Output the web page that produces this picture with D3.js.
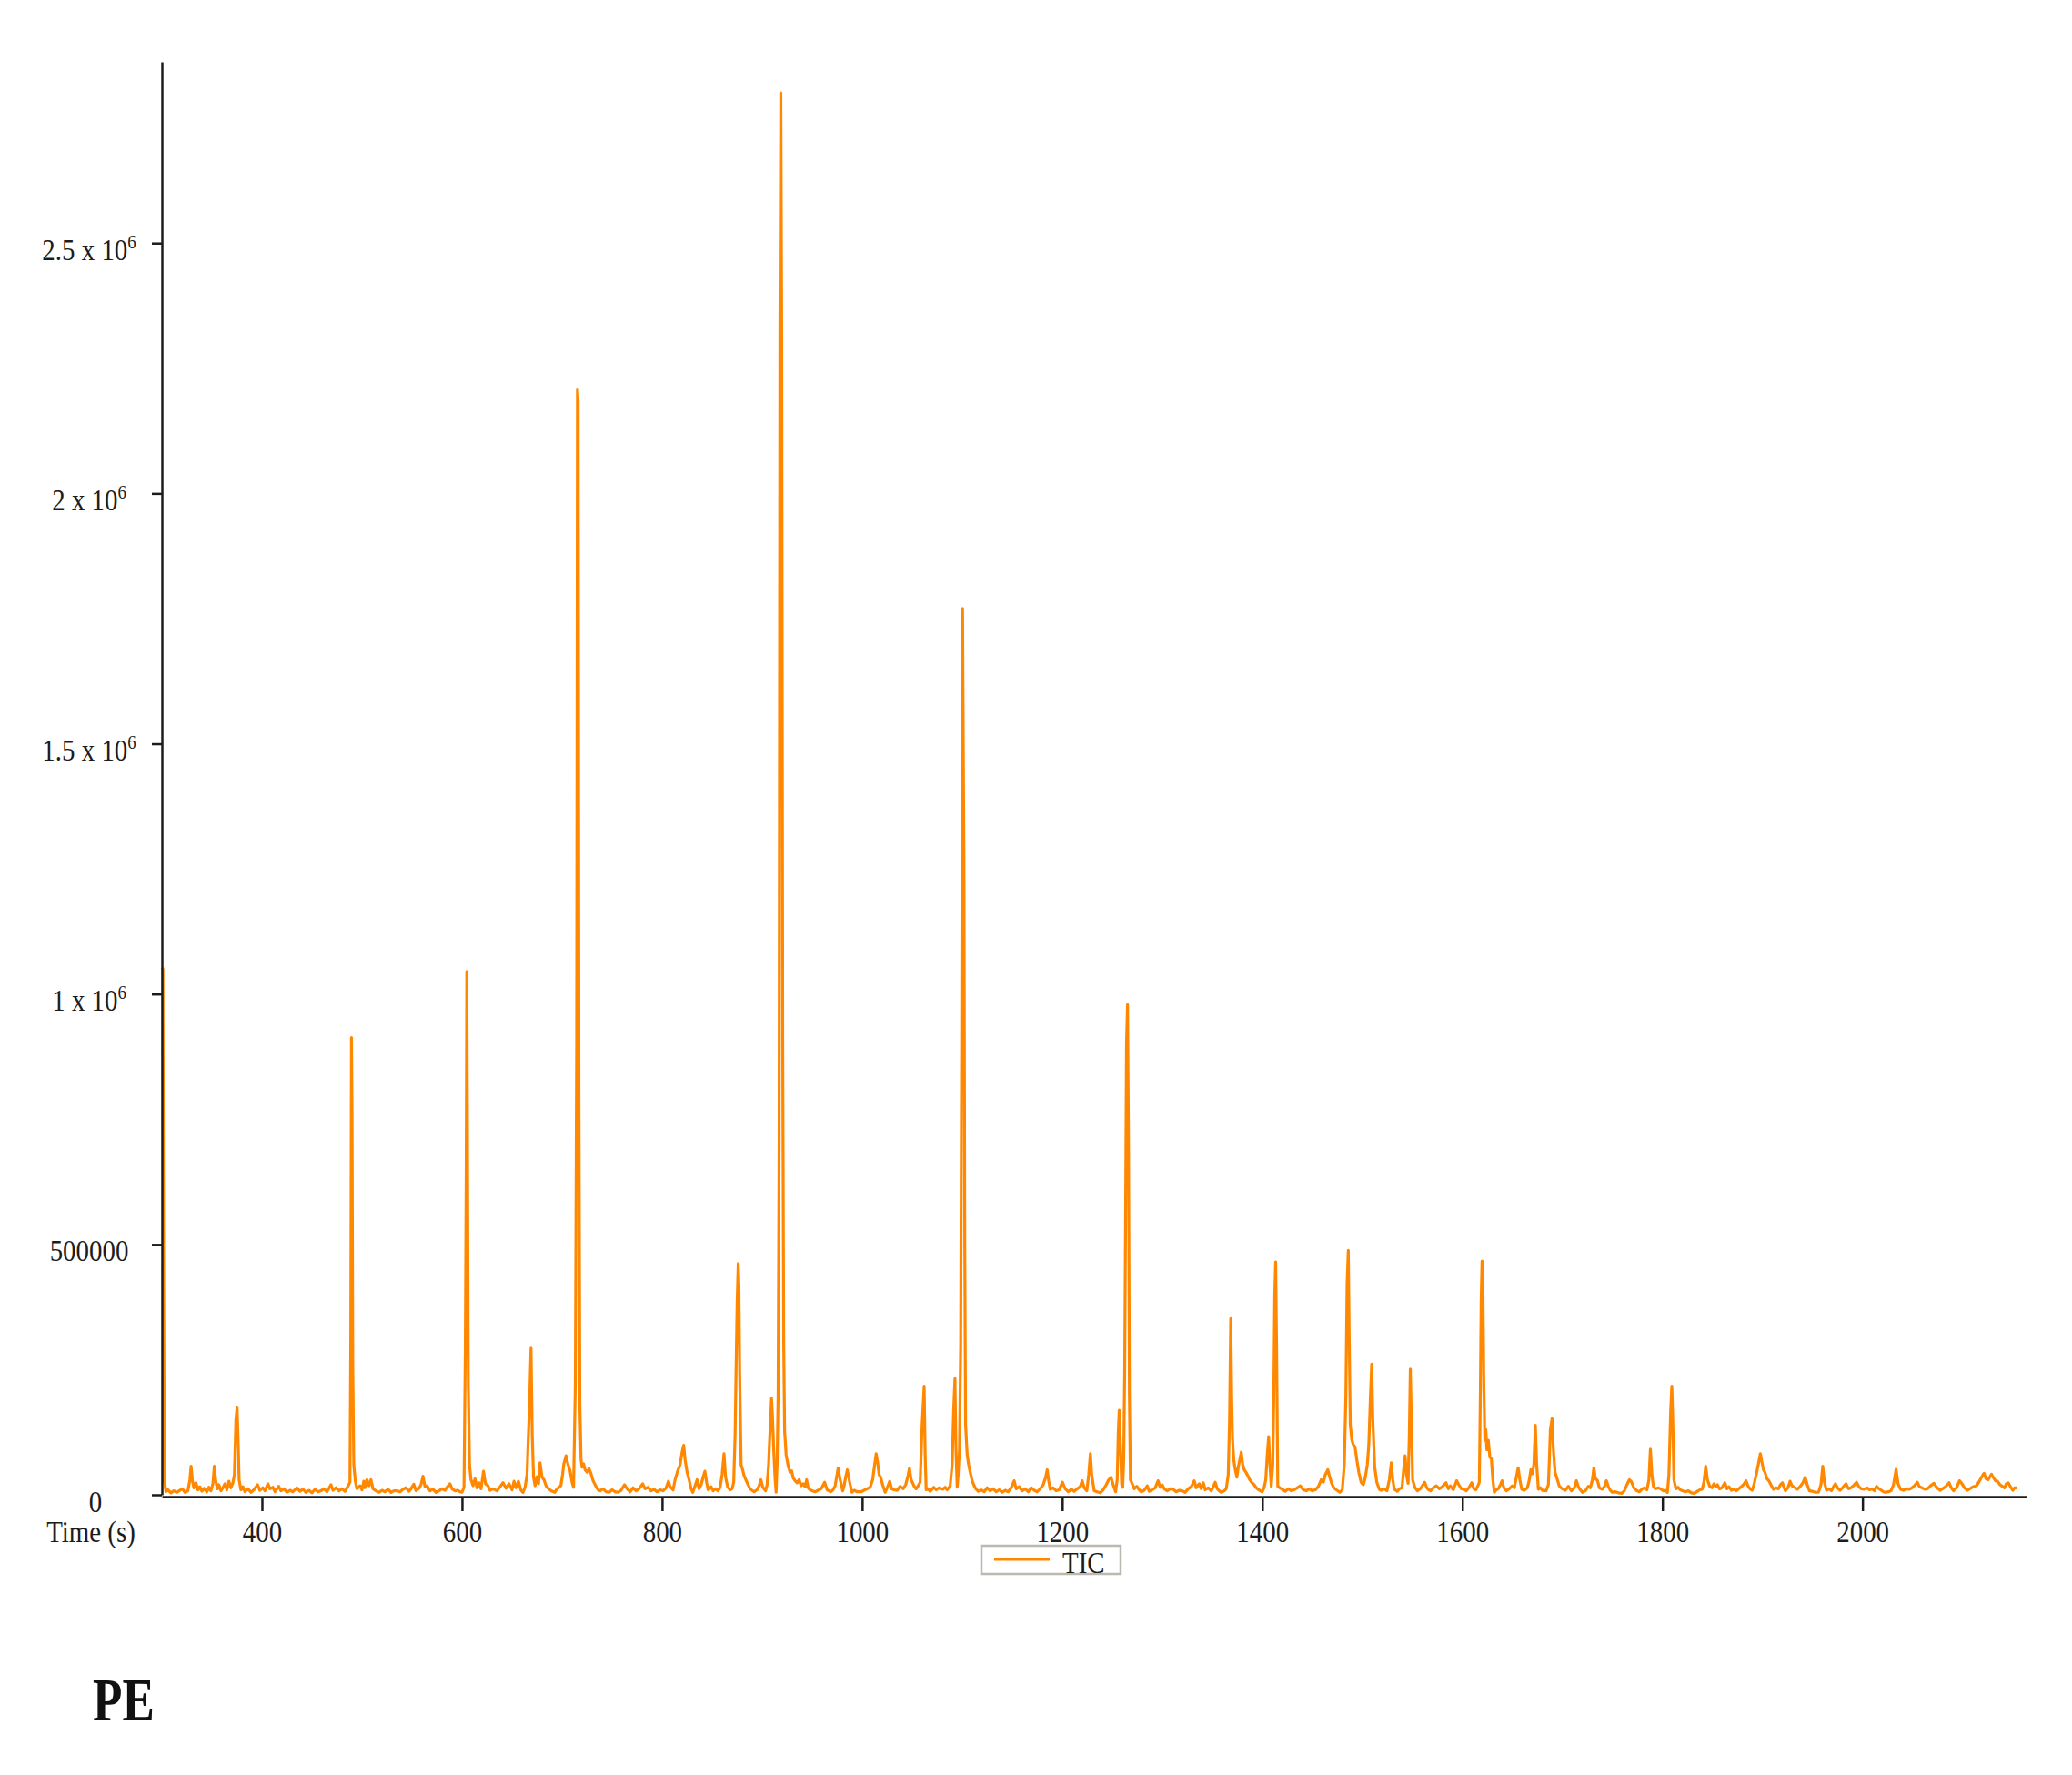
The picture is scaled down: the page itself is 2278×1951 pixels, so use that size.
<!DOCTYPE html>
<html>
<head>
<meta charset="utf-8">
<script src="https://cdn.jsdelivr.net/npm/d3@7"></script>
<style>
  body { margin: 0; background: #fff; }
  svg { display: block; }
  .squeeze { transform-box: fill-box; transform-origin: center; transform: scaleX(0.85); }
</style>
</head>
<body>
<svg id="chart" width="2278" height="1951"></svg>
<script>
// Axis ticks
const xTicks = [400, 600, 800, 1000, 1200, 1400, 1600, 1800, 2000];
const yTicks = [0, 500000, 1000000, 1500000, 2000000, 2500000];
const yTickLabels = [["0", ""], ["500000", ""], ["1 x 10", "6"], ["1.5 x 10", "6"], ["2 x 10", "6"], ["2.5 x 10", "6"]];
const seriesName = "TIC";
const panelLabel = "PE";

// TIC trace: [time (s), intensity in thousands of counts]
const ticPoints = [
  [300,1053],[301,1050],[301.8,420],[302.5,30],[304,6],[306,10],[309,4],[312,8],[315,5],[318,9],[320.5,12],[323,5],[326,8],[328,30],[329.2,57],[330.5,28],[332,14],[334,24],[336,10],[338,16],[340,7],[342,13],[345,6],[347,15],[349,8],[351,22],[352.4,57],[353.8,28],[355.5,12],[357,20],[359,8],[361,14],[363,22],[365,10],[367,27],[369,14],[371,24],[372.5,40],[374,150],[375.2,175],[376.2,110],[377.2,30],[379,10],[381,16],[383,6],[386,12],[389,5],[392,10],[395.6,20],[398,9],
  [401,14],[403,8],[406,22],[408,12],[411,15],[413,6],[416.7,17],[419,8],[422,12],[425,5],[428,9],[431,6],[435,14],[438,7],[441,11],[444,5],[447,9],[450,4],[453,11],[456,6],[459,8],[462,12],[465,6],[469,20],[471,9],[474,14],[477,8],[480,12],[483,7],[486,17],[488,25],[488.8,300],[489.5,913],[490.1,755],[490.8,260],[491.8,60],[493.5,25],[495,12],[498,18],
  [500,10],[501.8,27],[503,14],[505,30],[507,18],[509,30],[511,12],[514,8],[517,5],[520,9],[523,6],[526,11],[529,5],[532,8],[535,8],[538,6],[541,11],[544,14],[547,7],[549,12],[551.8,21],[554,8],[557,13],[559,20],[561,37],[563,16],[565,18],[568,8],[571,11],[574,5],[577,8],[580,12],[583,9],[585,15],[588,22],[590,12],[593,8],[595.7,9],[598,6],
  [600,5],[602,15],[603.3,290],[604.2,650],[604.8,1045],[605.5,700],[606.3,220],[607.5,60],[609,30],[611,18],[613,32],[615,14],[617,24],[619,12],[621.5,47],[623.5,22],[626,18],[628,9],[631,12],[635,8],[638,16],[641,24],[644,13],[647,22],[650,10],[652,27],[654,14],[656.4,27],[659,9],[661,5],[663,15],[665,40],[666,100],[667.5,180],[669,293],[670.2,120],[671.5,35],[673,18],[675,36],[676.5,22],[678,64],[680,35],[682,30],[684,18],[686.6,12],[689,8],[692.7,5],[695,12],[698.8,18],
  [700.5,40],[701.8,62],[704,78],[706,60],[708,48],[710,25],[711.5,15],[713.3,224],[714.6,900],[715.4,2207],[716.1,2185],[716.9,800],[717.8,180],[719,70],[720,55],[721.5,62],[723,50],[725,45],[727,52],[729,42],[731,28],[733.6,18],[736,10],[738,8],[741,12],[744,6],[747,5],[750,10],[753,6],[756,5],[759,9],[762.4,20],[765,12],[768,6],[771,14],[774,8],[777,12],[780.6,22],[783,12],[786,15],[789,8],[792,11],[795,6],[798,10],
  [801,8],[804,14],[806.4,27],[808,16],[811,10],[813,30],[815.5,47],[818,60],[820,85],[821.6,99],[823,70],[825,45],[827,30],[829,12],[830.7,5],[833,18],[835,30],[837,12],[839,20],[841,35],[842.8,47],[844.5,25],[846,10],[849,16],[851,8],[853,12],[856,8],[858,15],[860,40],[861.9,82],[863.5,35],[865.5,16],[868,10],[870,12],[871.6,25],[873,120],[874,254],[875,380],[876.1,462],[876.8,420],[877.6,240],[879,60],[880.5,50],[882,38],[883.7,30],[886,20],[888,12],[889.8,9],[892,6],[895,10],[897,18],[898.8,30],
  [900.5,16],[903.4,8],[905,20],[906.5,60],[907.3,100],[908.5,150],[909.4,193],[910.3,160],[911.6,90],[913,30],[914,5],[915,60],[916,200],[917,700],[917.8,2320],[918.7,2800],[919.6,2320],[920.6,900],[921.6,300],[922.5,127],[924,80],[926,58],[928,45],[929.5,48],[931,34],[933,28],[935,24],[937,30],[939,18],[941,22],[943,16],[944.5,30],[946,14],[948,10],[950,8],[953,6],[956,9],[959,12],[962.5,25],[965,10],[968.5,6],[971,10],[973,18],[976,53],[978,30],[980.6,8],[982,18],[983.5,35],[985.2,50],[987,30],[989.7,5],[992,9],[995,6],[999,6],
  [1002,9],[1005,12],[1008,15],[1010.5,30],[1012.5,60],[1014,82],[1015.5,65],[1017,40],[1018.5,35],[1020.5,20],[1023,5],[1025,14],[1027.6,27],[1029.5,12],[1032,10],[1035,9],[1038,17],[1041,12],[1043.5,20],[1045.5,35],[1047.3,53],[1049,30],[1052,17],[1054,12],[1056,18],[1058,25],[1060,140],[1062,217],[1063,80],[1064,10],[1066,12],[1068,7],[1071.6,15],[1074,10],[1077,14],[1080.6,11],[1083,15],[1085,10],[1088,18],[1089,40],[1090,60],[1091.5,170],[1092.8,232],[1093.8,90],[1095,15],[1096,40],[1097.3,90],[1098.5,300],[1099.5,900],
  [1100.4,1770],[1101.1,1500],[1101.8,1257],[1102.6,500],[1103.4,140],[1105,80],[1106.5,60],[1108,45],[1110,28],[1112,18],[1114,11],[1116,7],[1119,10],[1122,6],[1125,14],[1128,8],[1131,12],[1134,6],[1137,10],[1140,5],[1143,9],[1146,6],[1149,14],[1152,28],[1154,12],[1157,16],[1160,8],[1163,12],[1166,6],[1169,14],[1172,9],[1175,6],[1178,12],[1181,20],[1183.5,35],[1185,50],[1186.5,28],[1188,11],[1191,14],[1194,8],[1197,10],
  [1200.3,25],[1203,12],[1206,6],[1209,11],[1212,7],[1215,12],[1218,16],[1220,28],[1222,14],[1224.6,8],[1226.5,40],[1228.2,82],[1229.5,40],[1232,8],[1235,6],[1238,4],[1241,10],[1244,20],[1246.5,30],[1248.8,35],[1251,20],[1253.4,6],[1255,30],[1256,120],[1257,169],[1258.2,100],[1259.5,20],[1260.5,15],[1261.5,70],[1262.5,250],[1263.5,600],[1264.3,900],[1265.3,979],[1266.3,700],[1267.2,200],[1268.2,30],[1270,22],[1272,12],[1274.6,17],[1277,10],[1279,6],[1282,9],[1285,18],[1287,7],[1290,10],[1293,14],[1295.8,28],[1298,15],
  [1300,20],[1302,12],[1305,8],[1308,12],[1311,11],[1314,6],[1317,9],[1320,8],[1323,5],[1326,12],[1329,16],[1332,28],[1334,14],[1337,22],[1339,12],[1341,24],[1343,10],[1346,14],[1349,8],[1351,16],[1353,25],[1355,12],[1357,8],[1359,5],[1362,8],[1364,12],[1366,40],[1367.3,150],[1368.5,352],[1369.4,200],[1370.3,110],[1371.5,70],[1373,50],[1374.6,35],[1376,55],[1377.5,70],[1379,85],[1380.5,60],[1382,50],[1383.7,45],[1385.5,38],[1387.5,30],[1389.7,24],[1392,20],[1394,14],[1395.8,11],[1398,8],
  [1400,6],[1401.8,14],[1403.5,30],[1405,80],[1406.4,116],[1407.6,60],[1409,17],[1410.5,60],[1411.5,190],[1412.5,400],[1413.4,465],[1414.3,300],[1415.5,17],[1417.5,14],[1420,11],[1423,7],[1426,12],[1429,8],[1432,10],[1435,14],[1438,18],[1441,10],[1444,8],[1447,12],[1450,8],[1453,10],[1456,16],[1459,30],[1461,25],[1463,40],[1465.5,50],[1467.5,35],[1469.5,22],[1471.5,14],[1474,10],[1477.6,5],[1480,10],[1482,60],[1483.6,200],[1484.8,420],[1486,488],[1487,300],[1488,140],[1489.5,110],[1491,100],[1492.7,96],[1494.5,70],[1496.5,45],[1498.8,25],
  [1501,20],[1503,35],[1505,60],[1506.5,100],[1508,190],[1509.4,261],[1510.5,150],[1512.4,55],[1514.5,25],[1517,11],[1519,9],[1522,12],[1524.6,8],[1527,30],[1529,64],[1530.5,30],[1532,11],[1535,7],[1537,12],[1539.7,14],[1541.3,50],[1542.8,78],[1544.2,40],[1545.8,23],[1547,120],[1548,251],[1549.2,140],[1550.3,30],[1552.5,15],[1555,8],[1558,12],[1560,18],[1562.4,25],[1564.5,14],[1566.5,10],[1568.5,8],[1571,14],[1574,18],[1577,12],[1580,16],[1583.7,24],[1586,12],[1588,18],[1591,10],[1594.3,28],[1596.5,20],[1599,12],
  [1601.8,11],[1604,8],[1606.5,14],[1609.4,24],[1611.5,12],[1613.5,10],[1615.5,18],[1617,25],[1618,200],[1618.8,385],[1619.7,467],[1620.6,410],[1621.5,220],[1622.5,109],[1623.5,130],[1624.5,90],[1626,109],[1627.5,75],[1629,72],[1630.5,30],[1632,5],[1634,10],[1636,12],[1638,20],[1639.7,28],[1641.5,14],[1644,8],[1647,12],[1650,18],[1652,14],[1654,35],[1655.8,54],[1657.5,30],[1659.4,11],[1662,9],[1665,14],[1667,30],[1668.5,50],[1670,42],[1671.5,60],[1673,139],[1674.3,60],[1676,11],[1678,14],[1680,9],[1683.7,8],[1686,20],[1687,70],[1688,130],[1689.7,152],[1691,90],[1692.7,45],[1695,30],[1697,17],
  [1700,12],[1703,9],[1706,17],[1709,8],[1712,14],[1714,28],[1716,16],[1718,10],[1720,5],[1723,8],[1726,17],[1728,14],[1730,30],[1731.5,54],[1733,32],[1735,29],[1737,14],[1739.7,11],[1742,16],[1744,28],[1746,16],[1748,9],[1750,5],[1753,6],[1756,4],[1759.4,3],[1762,8],[1764.5,20],[1767,30],[1769,26],[1771.5,14],[1774.5,8],[1777,6],[1779.5,11],[1782,14],[1784.5,10],[1786.5,30],[1788,91],[1789.5,40],[1791,17],[1793,12],[1796,14],[1798.8,11],
  [1801,8],[1803,9],[1805,5],[1806.5,40],[1807.3,96],[1808.3,170],[1809.4,217],[1810.4,150],[1811.5,30],[1813.5,12],[1815.5,15],[1818,10],[1820,8],[1823,6],[1826,8],[1829,4],[1832,3],[1835,7],[1837.5,10],[1839.7,11],[1841.5,25],[1843.3,57],[1845,30],[1847.3,17],[1849.5,14],[1851.5,22],[1853.5,16],[1855,20],[1857,12],[1859.5,14],[1862.4,24],[1864.5,12],[1866.5,16],[1869,9],[1871.5,11],[1874,8],[1877.6,14],[1880,18],[1881.8,22],[1883.6,28],[1885.5,18],[1887.5,12],[1889.7,9],[1891.5,20],[1894,42],[1895.8,60],[1897.9,82],[1899.5,65],
  [1901,50],[1902.5,45],[1904.5,32],[1906.4,28],[1908.5,20],[1911,11],[1913.5,14],[1916,12],[1918,20],[1920,24],[1921.5,15],[1923,8],[1925.5,14],[1927.6,27],[1929.5,18],[1932,15],[1935,11],[1937.5,16],[1940.5,24],[1942.7,35],[1944.8,20],[1947,8],[1950,7],[1953,5],[1956,5],[1958.5,20],[1960.3,57],[1962,25],[1964,9],[1966.5,12],[1969,8],[1971,16],[1973,22],[1975,14],[1977.6,9],[1980,14],[1983.6,22],[1986,12],[1988.5,14],[1991,18],[1994,25],[1996.5,16],[1999,12],
  [2001.8,11],[2004.5,14],[2007,10],[2009.5,12],[2012,8],[2014,17],[2016.5,12],[2019,9],[2021,6],[2023,5],[2026,6],[2028.5,8],[2031,20],[2033.6,51],[2035.6,22],[2038,11],[2041,9],[2044,12],[2047,11],[2049.5,14],[2052,18],[2054.8,25],[2057,16],[2059.5,14],[2062.4,11],[2065,12],[2068,18],[2071.5,23],[2074.5,14],[2077.6,9],[2080,12],[2083,16],[2086.6,24],[2088.8,14],[2091,8],[2094,14],[2097,28],[2099.5,22],
  [2102,14],[2104.8,9],[2107.5,12],[2110.5,16],[2114,18],[2116.5,26],[2119,35],[2121.5,43],[2123.5,32],[2125.5,30],[2127.5,36],[2129,41],[2131,34],[2133,28],[2135,27],[2137.5,20],[2139.7,17],[2142,14],[2143.8,22],[2145.7,24],[2148,16],[2150.3,9],[2152,14],[2154,14]
];

const tic = ticPoints.map(([t, k]) => ({ t: t, v: k * 1000 }));

const svg = d3.select('#chart');
const font = '"Liberation Serif", "Times New Roman", serif';
const ink = '#1c1c1c';
const orange = '#ff8800';

// Scales
const x = d3.scaleLinear().domain([300, 2164]).range([178, 2228]);
const y = d3.scaleLinear().domain([0, 2862000]).range([1643, 68]);

// Trace
const line = d3.line().x(d => x(d.t)).y(d => y(d.v));
svg.append('path')
    .datum(tic)
    .attr('d', line)
    .attr('fill', 'none')
    .attr('stroke', orange)
    .attr('stroke-width', 3.2)
    .attr('stroke-linejoin', 'round');

// Y axis
const yAxis = svg.append('g')
    .attr('transform', 'translate(178,0)')
    .call(d3.axisLeft(y).tickValues(yTicks).tickSize(11).tickSizeOuter(0).tickFormat(() => ''));
yAxis.select('.domain').attr('stroke', ink).attr('stroke-width', 2.5);
yAxis.selectAll('.tick line').attr('stroke', ink).attr('stroke-width', 2.5);
yAxis.selectAll('.tick text').remove();
yAxis.selectAll('.tick').each(function(d, i) {
    const lab = yTickLabels[i];
    const t = d3.select(this).append('text')
        .attr('class', 'squeeze')
        .attr('x', i === 0 ? -73 : -80)
        .attr('y', 18)
        .attr('text-anchor', 'middle')
        .attr('font-family', font)
        .attr('font-size', 34)
        .attr('fill', ink);
    t.append('tspan').text(lab[0]);
    if (lab[1]) {
        t.append('tspan').attr('dy', -13).attr('font-size', 22).text(lab[1]);
    }
});

// X axis
const xAxis = svg.append('g')
    .attr('transform', 'translate(0,1645)')
    .call(d3.axisBottom(x).tickValues(xTicks).tickSize(16).tickSizeOuter(0).tickFormat(d3.format('d')));
xAxis.select('.domain').attr('stroke', ink).attr('stroke-width', 2.5);
xAxis.selectAll('.tick line').attr('stroke', ink).attr('stroke-width', 2.5);
xAxis.selectAll('.tick text')
    .attr('class', 'squeeze')
    .attr('y', 50)
    .attr('dy', 0)
    .attr('font-family', font)
    .attr('font-size', 34)
    .attr('fill', ink);

// Axis title under the zero label
svg.append('text')
    .attr('class', 'squeeze')
    .attr('x', 100)
    .attr('y', 1695)
    .attr('text-anchor', 'middle')
    .attr('font-family', font)
    .attr('font-size', 34)
    .attr('fill', ink)
    .text('Time (s)');

// Legend
const legend = svg.append('g');
legend.append('rect')
    .attr('x', 1079).attr('y', 1699)
    .attr('width', 153).attr('height', 31)
    .attr('fill', '#fff')
    .attr('stroke', '#bbb8b0')
    .attr('stroke-width', 2.5);
legend.append('line')
    .attr('x1', 1093).attr('x2', 1154)
    .attr('y1', 1714).attr('y2', 1714)
    .attr('stroke', orange)
    .attr('stroke-width', 3);
legend.append('text')
    .attr('class', 'squeeze')
    .attr('x', 1164)
    .attr('y', 1729)
    .attr('font-family', font)
    .attr('font-size', 34)
    .attr('fill', ink)
    .text(seriesName);

// Panel label
svg.append('text')
    .attr('transform', 'translate(102,1891) scale(0.78,1)')
    .attr('font-family', font)
    .attr('font-size', 68)
    .attr('font-weight', 'bold')
    .attr('fill', '#111')
    .text(panelLabel);
</script>
</body>
</html>
